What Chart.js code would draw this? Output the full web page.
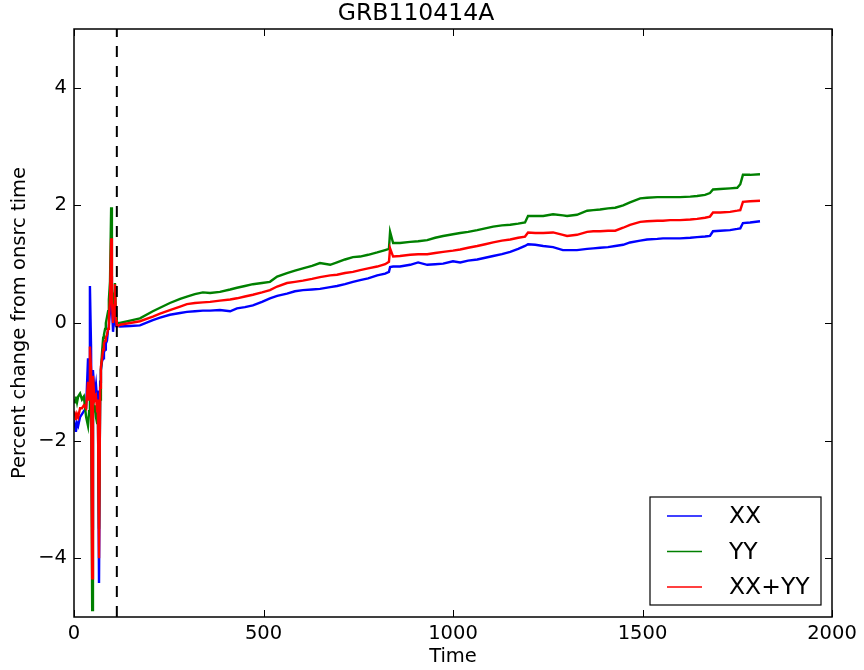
<!DOCTYPE html>
<html>
<head>
<meta charset="utf-8">
<title>GRB110414A</title>
<script src="https://cdn.jsdelivr.net/npm/chart.js@4.4.1/dist/chart.umd.min.js"></script>
<style>
  html, body { margin: 0; padding: 0; background: #fff; }
</style>
</head>
<body>
<canvas id="chart" width="864" height="670"></canvas>
<script>
// time since start (s)
const times = [
  0, 3, 5, 8, 11, 16, 21, 26, 32, 37, 40, 42, 45, 48, 50, 53, 55, 58, 61, 63,
  66, 69, 71, 74, 77, 79, 82, 84, 87, 90, 92, 95, 98, 100, 103, 106, 108, 111, 113, 116,
  121, 148, 174, 208, 227, 253, 280, 298, 319, 340,
  359, 385, 412, 430, 451, 472, 496, 517, 536, 562,
  583, 604, 628, 649, 676, 694, 715, 736, 755, 776,
  800, 821, 831, 834, 842, 860, 887, 908, 932, 953,
  974, 1000, 1019, 1040, 1064, 1085, 1106, 1129, 1151, 1172,
  1190, 1198, 1217, 1238, 1264, 1290, 1301, 1327, 1354, 1370,
  1388, 1409, 1428, 1449, 1467, 1494, 1512, 1539, 1554, 1573,
  1599, 1626, 1644, 1665, 1678, 1686, 1705, 1731, 1750, 1758,
  1765, 1784, 1810
];

// percent change per polarisation
const xx = [
  -1.65, -1.75, -1.85, -1.7, -1.75, -1.6, -1.55, -1.5, -1.45, -0.6, -1.0, 0.63, -0.4, -3.5, -0.8, -1.1, -1.2, -1.05, -1.3, -1.15,
  -4.42, -1.0, -0.8, -0.65, -0.6, -0.5, -0.45, -0.35, -0.3, -0.1, -0.05, 0.2, 0.8, 0.3, -0.15, 0.1, 0.2, -0.05, -0.05, -0.05,
  -0.06, -0.05, -0.04, 0.05, 0.09, 0.14, 0.17, 0.19, 0.20, 0.21,
  0.21, 0.22, 0.20, 0.25, 0.27, 0.30, 0.36, 0.42, 0.46, 0.50,
  0.54, 0.56, 0.57, 0.58, 0.61, 0.63, 0.66, 0.70, 0.73, 0.76,
  0.81, 0.84, 0.87, 0.95, 0.96, 0.96, 0.99, 1.03, 0.99, 1.00,
  1.01, 1.05, 1.03, 1.06, 1.08, 1.11, 1.14, 1.17, 1.21, 1.26,
  1.31, 1.34, 1.33, 1.31, 1.29, 1.24, 1.24, 1.24, 1.26, 1.27,
  1.28, 1.29, 1.31, 1.33, 1.37, 1.40, 1.42, 1.43, 1.44, 1.44,
  1.44, 1.45, 1.46, 1.47, 1.48, 1.56, 1.57, 1.58, 1.60, 1.61,
  1.70, 1.71, 1.73
];

const yy = [
  -1.3, -1.35, -1.25, -1.35, -1.25, -1.2, -1.3, -1.25, -1.6, -1.75, -1.5, -1.2, -1.0, -4.88, -1.3, -1.5, -1.4, -1.6, -1.7, -1.5,
  -3.5, -1.3, -0.8, -0.5, -0.25, -0.2, -0.1, 0.0, 0.1, 0.2, 0.4, 0.7, 1.97, 0.6, 0.3, 0.5, 0.68, 0.1, 0.0, 0.0,
  0.0, 0.04, 0.08, 0.20, 0.26, 0.34, 0.41, 0.45, 0.49, 0.52,
  0.51, 0.53, 0.57, 0.60, 0.63, 0.66, 0.68, 0.70, 0.79, 0.85,
  0.89, 0.93, 0.97, 1.02, 0.99, 1.03, 1.08, 1.12, 1.13, 1.16,
  1.20, 1.24, 1.26, 1.55, 1.36, 1.36, 1.38, 1.39, 1.41, 1.45,
  1.48, 1.51, 1.53, 1.55, 1.58, 1.61, 1.64, 1.66, 1.67, 1.69,
  1.71, 1.82, 1.82, 1.82, 1.85, 1.83, 1.82, 1.84, 1.91, 1.92,
  1.93, 1.95, 1.96, 2.00, 2.05, 2.12, 2.13, 2.14, 2.14, 2.14,
  2.14, 2.15, 2.16, 2.18, 2.21, 2.27, 2.28, 2.29, 2.30, 2.36,
  2.52, 2.52, 2.53
];

const xxyy = [
  -1.5, -1.55, -1.65, -1.55, -1.6, -1.45, -1.45, -1.4, -1.45, -1.0, -1.3, -0.4, -0.8, -4.34, -0.9, -1.2, -1.3, -1.25, -1.5, -1.3,
  -4.0, -1.1, -0.75, -0.6, -0.45, -0.35, -0.3, -0.25, -0.2, -0.1, 0.1, 0.4, 1.44, 0.4, 0.0, 0.3, 0.66, 0.05, -0.05, -0.05,
  -0.03, 0.0, 0.03, 0.11, 0.16, 0.22, 0.28, 0.32, 0.34, 0.35,
  0.36, 0.38, 0.40, 0.42, 0.45, 0.48, 0.52, 0.56, 0.62, 0.68,
  0.70, 0.72, 0.75, 0.78, 0.81, 0.82, 0.85, 0.87, 0.90, 0.93,
  0.96, 1.00, 1.04, 1.27, 1.13, 1.14, 1.16, 1.17, 1.17, 1.19,
  1.21, 1.23, 1.25, 1.28, 1.31, 1.34, 1.37, 1.40, 1.42, 1.45,
  1.47, 1.54, 1.53, 1.53, 1.54, 1.50, 1.48, 1.50, 1.55, 1.56,
  1.56, 1.57, 1.57, 1.62, 1.67, 1.72, 1.73, 1.74, 1.74, 1.75,
  1.75, 1.76, 1.77, 1.79, 1.81, 1.88, 1.88, 1.89, 1.91, 1.92,
  2.06, 2.07, 2.08
];

const onsrcTime = 113;
const xTicks = [0, 500, 1000, 1500, 2000];
const yTicks = [-4, -2, 0, 2, 4];

const pts = vals => times.map((t, i) => ({ x: t, y: vals[i] }));

Chart.defaults.font.family = "'DejaVu Sans', sans-serif";
Chart.defaults.color = '#000';

// axes box, inward ticks on all four sides, legend box in lower right
const framePlugin = {
  id: 'frame',
  afterDraw(chart) {
    const { ctx, chartArea: a, scales: { x, y } } = chart;
    ctx.save();
    ctx.strokeStyle = '#000';
    ctx.lineWidth = 1;
    ctx.beginPath();
    xTicks.forEach(v => {
      const px = Math.round(x.getPixelForValue(v)) + 0.5;
      ctx.moveTo(px, a.bottom); ctx.lineTo(px, a.bottom - 7);
      ctx.moveTo(px, a.top); ctx.lineTo(px, a.top + 7);
    });
    yTicks.forEach(v => {
      const py = Math.round(y.getPixelForValue(v)) + 0.5;
      ctx.moveTo(a.left, py); ctx.lineTo(a.left + 7, py);
      ctx.moveTo(a.right, py); ctx.lineTo(a.right - 7, py);
    });
    ctx.stroke();
    ctx.lineWidth = 1.5;
    ctx.strokeRect(a.left, a.top, a.right - a.left, a.bottom - a.top);

    // legend
    const items = chart.data.datasets.filter(d => d.label);
    const w = 171, h = 108;
    const lx = a.right - 11 - w, ly = a.bottom - 12 - h;
    ctx.fillStyle = '#fff';
    ctx.fillRect(lx, ly, w, h);
    ctx.lineWidth = 1.2;
    ctx.strokeRect(lx, ly, w, h);
    ctx.font = "23.5px 'DejaVu Sans', sans-serif";
    ctx.textBaseline = 'middle';
    ctx.textAlign = 'left';
    items.forEach((d, i) => {
      const ry = ly + 19 + i * 35.5;
      ctx.strokeStyle = d.borderColor;
      ctx.lineWidth = 1.5;
      ctx.beginPath();
      ctx.moveTo(lx + 17, ry); ctx.lineTo(lx + 52, ry);
      ctx.stroke();
      ctx.fillStyle = '#000';
      ctx.fillText(d.label, lx + 79, ry + 1);
    });
    ctx.restore();
  }
};

new Chart(document.getElementById('chart'), {
  type: 'line',
  data: {
    datasets: [
      { label: 'XX', data: pts(xx), borderColor: '#0000ff', order: 3 },
      { label: 'YY', data: pts(yy), borderColor: '#008000', order: 2 },
      { label: 'XX+YY', data: pts(xxyy), borderColor: '#ff0000', order: 1 },
      {
        label: '',
        data: [{ x: onsrcTime, y: -5 }, { x: onsrcTime, y: 5 }],
        borderColor: '#000',
        borderDash: [11, 9],
        borderWidth: 2,
        order: 0
      }
    ]
  },
  options: {
    responsive: false,
    animation: false,
    layout: { padding: { left: 0, right: 32, top: 0, bottom: 0 } },
    elements: {
      point: { radius: 0 },
      line: { borderWidth: 2.4, tension: 0 }
    },
    plugins: {
      legend: { display: false },
      tooltip: { enabled: false },
      title: {
        display: true,
        text: 'GRB110414A',
        font: { size: 23.5, weight: 'normal' },
        padding: { top: 0, bottom: 0.8 },
        color: '#000'
      }
    },
    scales: {
      x: {
        type: 'linear',
        min: 0,
        max: 2000,
        grid: { display: false, drawTicks: false },
        border: { display: false },
        afterBuildTicks: s => { s.ticks = xTicks.map(v => ({ value: v })); },
        afterFit: s => { s.height = 53; },
        ticks: { padding: 5, font: { size: 19.5 }, maxRotation: 0, callback: v => String(v) },
        title: { display: true, text: 'Time', font: { size: 19.5 }, padding: { top: 0, bottom: 1.3 } }
      },
      y: {
        type: 'linear',
        min: -5,
        max: 5,
        grid: { display: false, drawTicks: false },
        border: { display: false },
        afterBuildTicks: s => { s.ticks = yTicks.map(v => ({ value: v })); },
        afterFit: s => { s.width = 74; },
        ticks: {
          padding: 7,
          font: { size: 19.5 },
          callback: v => String(v).replace('-', '\u2212')
        },
        title: {
          display: true,
          text: 'Percent change from onsrc time',
          font: { size: 19.5 },
          padding: { top: 8.3, bottom: 0 }
        }
      }
    }
  },
  plugins: [framePlugin]
});
</script>
</body>
</html>
